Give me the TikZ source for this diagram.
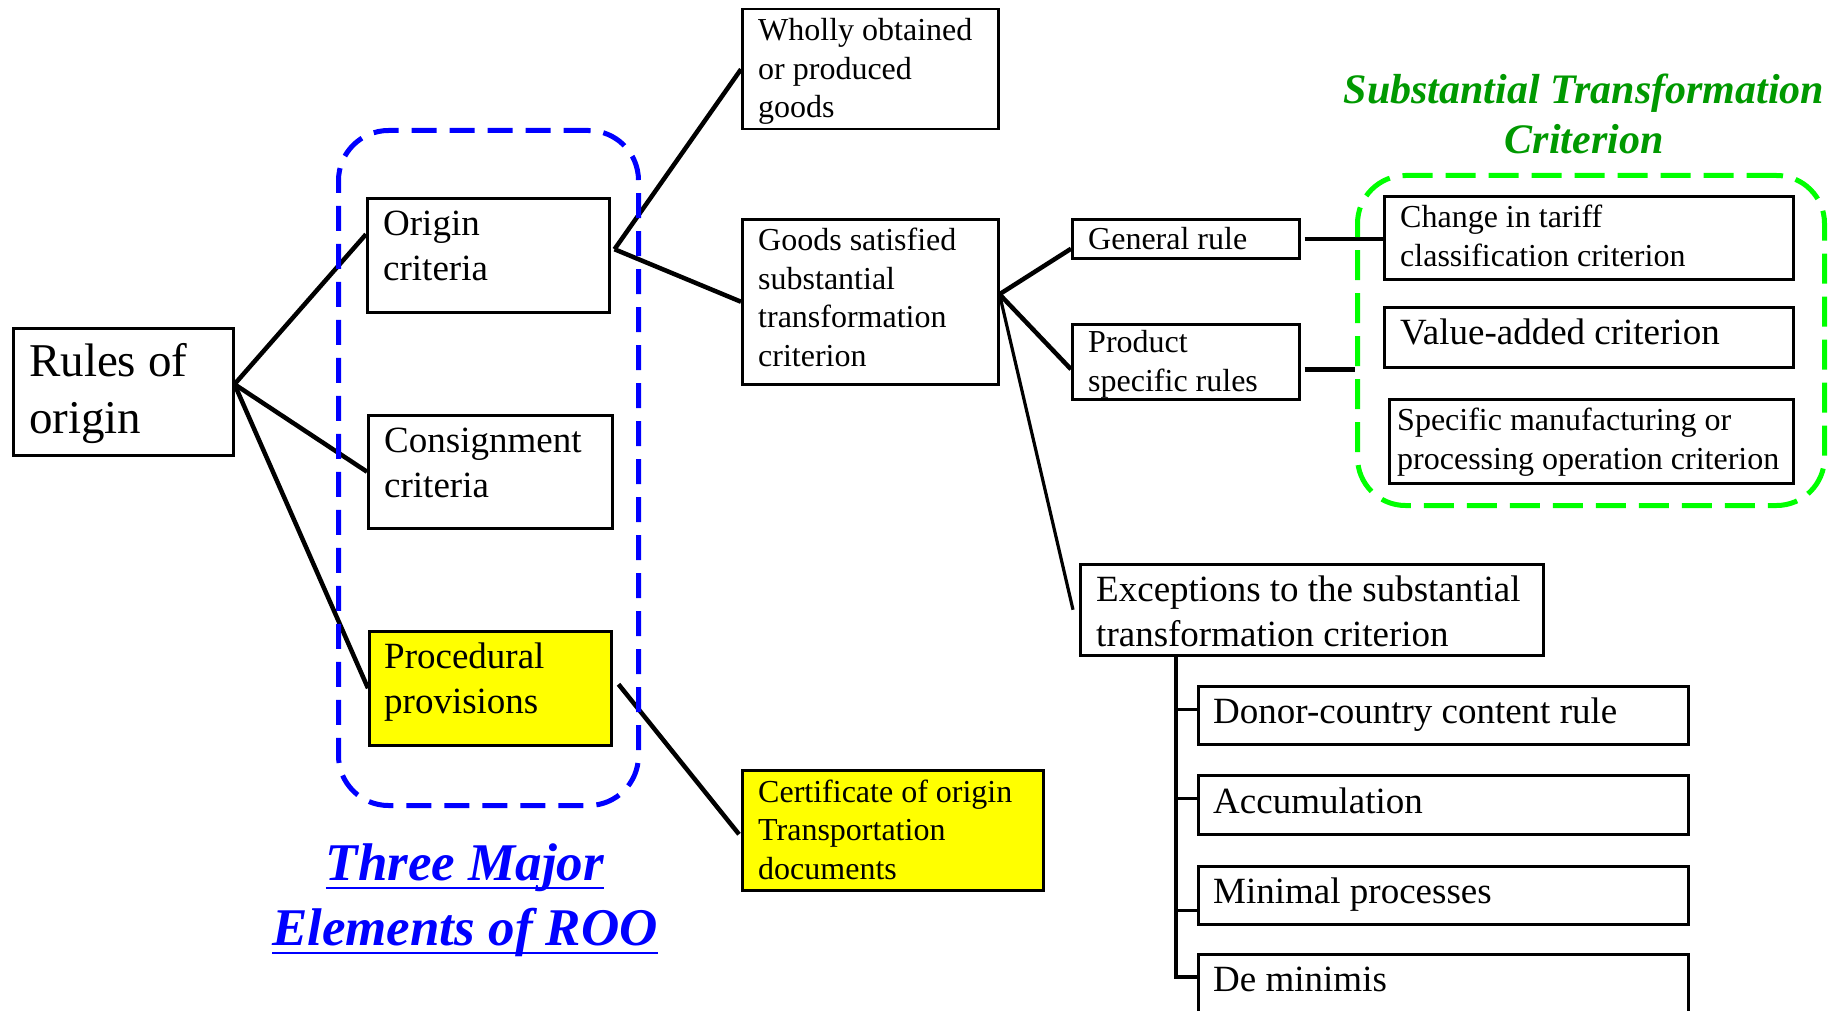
\documentclass[tikz,border=0pt]{standalone}
\usepackage{fontspec}
\setmainfont{Liberation Serif}
\usetikzlibrary{calc}
\definecolor{ttgreen}{RGB}{0,153,0}
\definecolor{dashgreen}{RGB}{0,255,0}
\definecolor{boxyellow}{RGB}{255,255,0}
\newcommand{\thickul}[1]{\vtop{\hbox{\raisebox{0pt}[\height][0pt]{#1}}\kern 6.5pt\hrule height 2.7pt}}
\begin{document}
\begin{tikzpicture}[x=1pt,y=-1pt,
  box/.style={draw, line width=2.5pt, inner sep=0pt, anchor=north west},
  conn/.style={line width=4.5pt},
  thin conn/.style={line width=3.2pt},
  tree/.style={line width=3.2pt},
  tbig/.style={anchor=base west, inner sep=0pt, align=left, font=\fontsize{47}{57}\selectfont},
  tmid/.style={anchor=base west, inner sep=0pt, align=left, font=\fontsize{37}{44.5}\selectfont},
  tsmall/.style={anchor=base west, inner sep=0pt, align=left, font=\fontsize{32}{38.5}\selectfont},
  frame/.style={anchor=north west, inner sep=0pt, line width=5pt, rounded corners=#1},
]
\clip (0,0) rectangle (1843,1011);
\fill[white] (0,0) rectangle (1843,1011);

% boxes
\node[box, minimum width=220pt, minimum height=127pt] (rules) at (12,327) {};
\node[box, minimum width=242pt, minimum height=114pt] (origin) at (366,197) {};
\node[box, minimum width=244pt, minimum height=113pt] (consign) at (367,414) {};
\node[box, fill=boxyellow, minimum width=242pt, minimum height=114pt] (proc) at (368,630) {};
\node[box, minimum width=256pt, minimum height=120pt] (wholly) at (741,8) {};
\node[box, minimum width=256pt, minimum height=165pt] (goods) at (741,218) {};
\node[box, minimum width=227pt, minimum height=39pt] (general) at (1071,218) {};
\node[box, minimum width=227pt, minimum height=75pt] (product) at (1071,323) {};
\node[box, minimum width=409pt, minimum height=83pt] (change) at (1383,195) {};
\node[box, minimum width=409pt, minimum height=60pt] (value) at (1383,306) {};
\node[box, minimum width=404pt, minimum height=84pt] (specific) at (1388,398) {};
\node[box, minimum width=463pt, minimum height=91pt] (exc) at (1079,563) {};
\node[box, minimum width=490pt, minimum height=58pt] (donor) at (1197,685) {};
\node[box, minimum width=490pt, minimum height=59pt] (accum) at (1197,774) {};
\node[box, minimum width=490pt, minimum height=58pt] (minimal) at (1197,865) {};
\node[box, minimum width=490pt, minimum height=80pt] (demin) at (1197,953) {};
\node[box, fill=boxyellow, minimum width=301pt, minimum height=120pt] (cert) at (741,769) {};

% texts (anchor = baseline of the last line)
\node[tbig] (t-rules) at (29,433) {Rules of\\origin};
\node[tmid] (t-origin) at (383,280) {Origin\\criteria};
\node[tmid] (t-consign) at (384,497) {Consignment\\criteria};
\node[tmid] (t-proc) at (384,713) {Procedural\\provisions};
\node[tsmall] (t-wholly) at (758,118) {Wholly obtained\\or produced\\goods};
\node[tsmall] (t-goods) at (758,366) {Goods satisfied\\substantial\\transformation\\criterion};
\node[tsmall] (t-general) at (1088,249) {General rule};
\node[tsmall] (t-product) at (1088,391) {Product\\specific rules};
\node[tsmall] (t-change) at (1400,266) {Change in tariff\\classification criterion};
\node[tmid] (t-value) at (1400,344) {Value-added criterion};
\node[tsmall] (t-specific) at (1397,469) {Specific manufacturing or\\processing operation criterion};
\node[tmid] (t-exc) at (1096,646) {Exceptions to the substantial\\transformation criterion};
\node[tmid] (t-donor) at (1213,723) {Donor-country content rule};
\node[tmid] (t-accum) at (1213,813) {Accumulation};
\node[tmid] (t-minimal) at (1213,903) {Minimal processes};
\node[tmid] (t-demin) at (1213,991) {De minimis};
\node[tsmall] (t-cert) at (758,879) {Certificate of origin\\Transportation\\documents};

% titles
\node[anchor=base, inner sep=0pt, align=center, text=blue,
      font=\bfseries\itshape\fontsize{53}{65}\selectfont] (t-three) at (465,945)
      {\thickul{Three Major}\\\thickul{Elements of ROO}};
\node[anchor=base, inner sep=0pt, align=center, text=ttgreen,
      font=\bfseries\itshape\fontsize{42}{50}\selectfont] (t-stc) at (1584,154)
      {Substantial Transformation\\Criterion};

% connectors
\coordinate (rj) at ([yshift=7.5pt]rules.east);
\draw[conn] (rj) -- ([yshift=21pt]origin.west);
\draw[conn] (rj) -- (consign.west);
\draw[conn] (rj) -- (proc.west);
\coordinate (oj) at ([xshift=4pt,yshift=6pt]origin.east);
\draw[conn] (oj) -- (wholly.west);
\draw[conn] (oj) -- (goods.west);
\coordinate (gj) at ([yshift=7.5pt]goods.east);
\draw[conn] (gj) -- ([yshift=-10pt]general.west);
\draw[conn] (gj) -- ([yshift=-7.5pt]product.west);
\draw[thin conn] (gj) -- ([xshift=-6pt]exc.west);
\draw[conn] ([xshift=4pt]general.east) -- (general.east -| change.west);
\draw[conn] ([xshift=6pt,yshift=4pt]proc.east) -- ([xshift=-2pt,yshift=-4pt]cert.west);

% exceptions tree
\coordinate (tk) at ([xshift=97pt]exc.south west);
\draw[tree] (tk) |- ([yshift=-24pt]demin.north west);
\draw[tree] (tk |- donor.west) ++(0,-6) -- ([yshift=6pt]donor.west);
\draw[tree] (tk |- accum.west) ++(0,-6.5) -- ([yshift=6.5pt]accum.west);
\draw[tree] (tk |- minimal.west) ++(0,15) -- ([yshift=-15pt]minimal.west);

% dashed frames
\node[frame=50pt, draw=blue, dash pattern=on 25pt off 13pt,
      minimum width=300pt, minimum height=675pt] (blueframe) at (336,128) {};
\node[frame=48pt, draw=dashgreen, dash pattern=on 30pt off 13pt,
      minimum width=467pt, minimum height=330pt] (greenframe) at (1355,173) {};
\coordinate (pj) at ([xshift=4pt,yshift=-7.5pt]product.east);
\draw[conn] (pj) -- (pj -| greenframe.west);
\end{tikzpicture}
\end{document}
